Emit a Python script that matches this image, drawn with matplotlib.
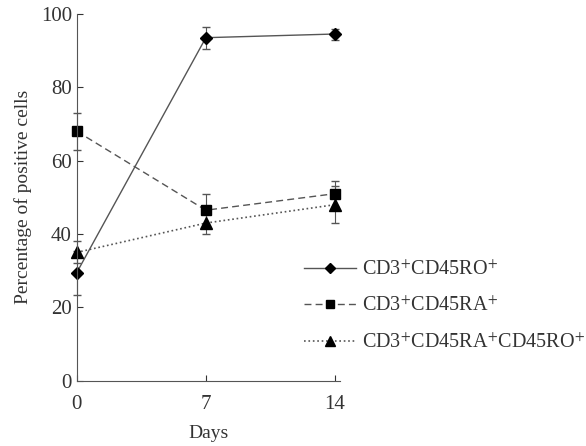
import matplotlib
matplotlib.use("Agg")
import matplotlib.pyplot as plt
from matplotlib.lines import Line2D

plt.rcParams['font.family'] = ['Liberation Serif', 'DejaVu Serif']
plt.rcParams['mathtext.fontset'] = 'stix'

days = [0, 7, 14]
ro = [29.5, 93.5, 94.5]
ro_err = [6.0, 3.0, 1.5]
ra = [68.0, 46.5, 51.0]
ra_err = [5.0, 4.5, 3.5]
both = [35.0, 43.0, 48.0]
both_err = [3.0, 3.0, 5.0]
labels = [r'CD3$^{+}$CD45RO$^{+}$', r'CD3$^{+}$CD45RA$^{+}$',
          r'CD3$^{+}$CD45RA$^{+}$CD45RO$^{+}$']

fig = plt.figure(figsize=(5.86, 4.46), dpi=100)
ax = fig.add_axes([0.131, 0.146, 0.45, 0.823])

lc = '#555555'
styles = [('-', 'D', 6, 1.0), ((0, (5, 3)), 's', 7, 1.0), (':', '^', 8, 1.2)]
handles = []
for (ls, mk, ms, lw), y, err in zip(styles, [ro, ra, both], [ro_err, ra_err, both_err]):
    bars = ax.errorbar(days, y, yerr=err, color=lc, ls=ls, lw=lw, marker=mk,
                       ms=ms, mfc='black', mec='black', ecolor=lc, capsize=3,
                       elinewidth=0.8)
    for a in bars.lines[0:1] + bars.lines[1] + bars.lines[2]:
        a.set_clip_on(False)
    handles.append(Line2D([], [], color=lc, ls=ls, lw=lw, marker=mk, ms=ms - 1,
                          mfc='black', mec='black'))

ax.set_xlim(0, 14.3)
ax.set_ylim(0, 100)
ax.set_xticks(days)
ax.set_yticks([0, 20, 40, 60, 80, 100])
ax.spines['top'].set_visible(False)
ax.spines['right'].set_visible(False)
for s in ['left', 'bottom']:
    ax.spines[s].set_color(lc)
ax.tick_params(direction='in', colors='#333333', labelsize=15, length=4)
ax.tick_params(axis='x', pad=10)
ax.set_xlabel('Days', fontsize=14, color='#333333', labelpad=8)
ax.set_ylabel('Percentage of positive cells', fontsize=14, color='#333333', labelpad=6)

fig.legend(handles, labels, loc='upper left', bbox_to_anchor=(0.505, 0.435),
           frameon=False, fontsize=14.5, handlelength=2.6, labelspacing=0.85,
           handletextpad=0.3, labelcolor='#333333', borderaxespad=0)

fig.savefig('out.png', dpi=100)
